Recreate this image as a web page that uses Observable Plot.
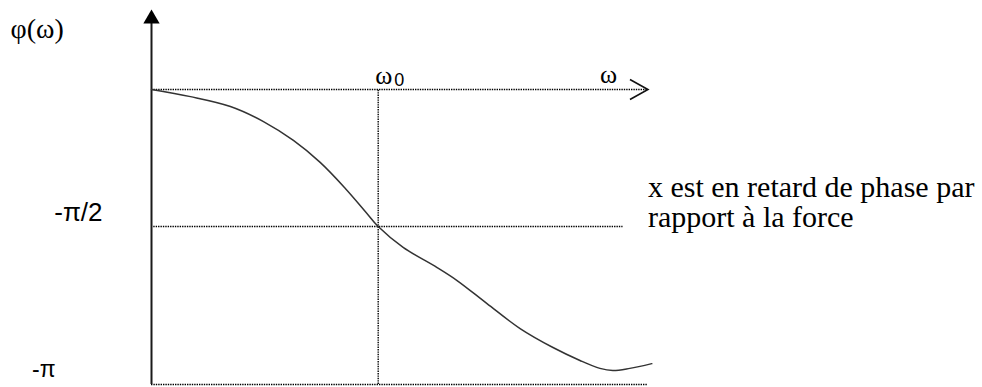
<!DOCTYPE html>
<html>
<head>
<meta charset="utf-8">
<script src="https://cdn.jsdelivr.net/npm/d3@7"></script>
<script src="https://cdn.jsdelivr.net/npm/@observablehq/plot@0.6"></script>
<style>
  html, body { margin: 0; padding: 0; background: #fff; }
</style>
</head>
<body>
<div id="chart"></div>
<script>
// Phase response φ(ω) of a driven oscillator.
// ω is expressed in units of ω0, φ in units of π.
const omega = [0, 0.172, 0.348, 0.494, 0.626, 0.744, 0.855, 0.943, 1.0, 1.110,
               1.260, 1.348, 1.480, 1.626, 1.771, 1.890, 1.978, 2.035, 2.110, 2.207];
const phase = [0, -0.026, -0.062, -0.117, -0.186, -0.266, -0.361, -0.445, -0.5, -0.566,
               -0.630, -0.671, -0.744, -0.823, -0.883, -0.924, -0.949, -0.956, -0.949, -0.934];

const omega0 = 1;                       // resonance
const phaseTicks = [-0.5, -1];          // -π/2, -π
const phaseTickLabels = ["-π/2", "-π"];
const axisEnd = 2.19;                   // end of the ω axis
const halfLineEnd = 2.08;               // end of the -π/2 guide
const axisTop = 0.25;                   // top of the φ axis
const arrowTip = 0.258;

const yLabel = "φ(ω)";
const xLabel = "ω";
const omega0Label = "ω";
const omega0Sub = "0";
const note = "x est en retard de phase par\nrapport à la force";

const curve = omega.map((w, i) => ({omega: w, phase: phase[i]}));

const serif = "'Liberation Serif', 'Times New Roman', serif";
const sans = "'Liberation Sans', Arial, sans-serif";
const dotted = {stroke: "#000", strokeWidth: 1.4, strokeDasharray: "1.4,1"};

// open ">" head for the ω axis
const chevron = {
  draw(context, size) {
    const r = Math.sqrt(size / Math.PI);
    context.moveTo(-1.8 * r, -r);
    context.lineTo(0, 0);
    context.lineTo(-1.8 * r, r);
  }
};

const chart = Plot.plot({
  width: 982,
  height: 387,
  marginTop: 0,
  marginLeft: 151,
  marginRight: 330,
  marginBottom: 3,
  style: {background: "#fff", overflow: "visible"},
  x: {type: "linear", domain: [0, 2.21], axis: null},
  // piecewise: 0 → 89px, -π/2 → 226px, -π → 384px
  y: {type: "linear", domain: [-1, -0.5, 0], range: [384, 226, 89], axis: null},
  marks: [
    // guides
    Plot.ruleY([0], {x1: 0, x2: axisEnd, ...dotted}),
    Plot.ruleY([phaseTicks[0]], {x1: 0.01, x2: halfLineEnd, ...dotted}),
    Plot.ruleY([phaseTicks[1]], {x1: 0, x2: axisEnd, ...dotted}),
    Plot.ruleX([omega0], {y1: phaseTicks[1], y2: 0, ...dotted}),
    // φ axis with filled arrow
    Plot.ruleX([0], {y1: phaseTicks[1], y2: axisTop, stroke: "#1a1a1a", strokeWidth: 2}),
    Plot.dot([0], {x: 0, y: arrowTip, symbol: "triangle", r: 6.05, fill: "#000", stroke: "none"}),
    // ω axis head
    Plot.dot([0], {x: axisEnd, y: 0, symbol: chevron, r: 10, fill: "none", stroke: "#111", strokeWidth: 1.6}),
    // phase curve
    Plot.line(curve, {x: "omega", y: "phase", curve: "catmull-rom", stroke: "#333", strokeWidth: 1.5}),
    // labels
    Plot.text([yLabel], {frameAnchor: "top-left", text: d => d, dx: -141, dy: 37, lineAnchor: "bottom",
      textAnchor: "start", fontFamily: serif, fontSize: 28, fill: "#000"}),
    Plot.text([phaseTickLabels[0]], {x: 0, y: phaseTicks[0], text: d => d, dx: -49, dy: -6,
      textAnchor: "end", lineAnchor: "bottom", fontFamily: sans, fontSize: 26, fill: "#000"}),
    Plot.text([phaseTickLabels[1]], {x: 0, y: phaseTicks[1], text: d => d, dx: -96, dy: -8,
      textAnchor: "end", lineAnchor: "bottom", fontFamily: sans, fontSize: 23, fill: "#000"}),
    Plot.text([omega0Label], {x: omega0, y: 0, text: d => d, dx: -3, dy: -6,
      textAnchor: "start", lineAnchor: "bottom", fontFamily: serif, fontSize: 26, fill: "#000"}),
    Plot.text([omega0Sub], {x: omega0, y: 0, text: d => d, dx: 16, dy: -4,
      textAnchor: "start", lineAnchor: "bottom", fontFamily: sans, fontSize: 18, fill: "#000"}),
    Plot.text([xLabel], {x: axisEnd, y: 0, text: d => d, dx: -48, dy: -7,
      textAnchor: "start", lineAnchor: "bottom", fontFamily: serif, fontSize: 26, fill: "#000"}),
    Plot.text([note], {x: axisEnd, y: phaseTicks[0], text: d => d, dx: 0, dy: 0,
      textAnchor: "start", lineAnchor: "bottom", lineHeight: 1.0,
      fontFamily: serif, fontSize: 30, fill: "#000"})
  ]
});

document.getElementById("chart").appendChild(chart);
</script>
</body>
</html>
